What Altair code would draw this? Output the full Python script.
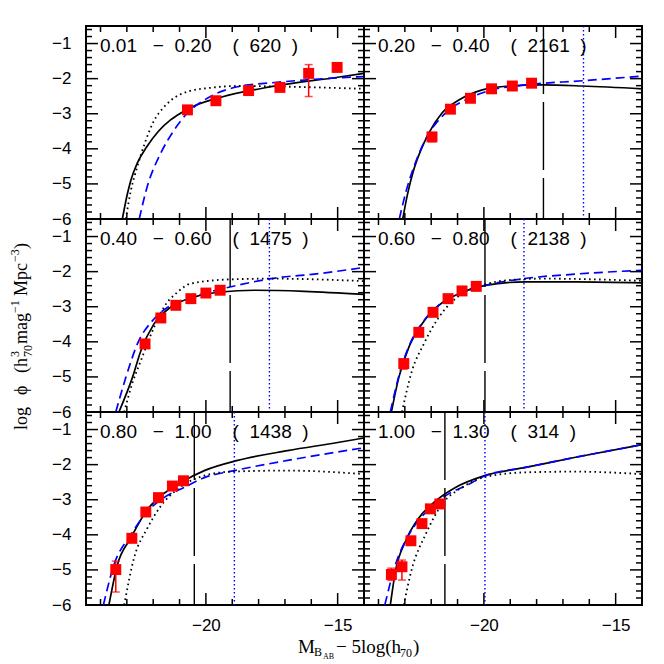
import altair as alt
import pandas as pd

W, H = 278, 193
X_DOMAIN = [-24.55, -14.0]
Y_DOMAIN = [-6.0, -0.5]

# redshift bins and counts
Z_LO = ["0.01", "0.20", "0.40", "0.60", "0.80", "1.00"]
Z_HI = ["0.20", "0.40", "0.60", "0.80", "1.00", "1.30"]
N_GAL = ["620", "2161", "1475", "2138", "1438", "314"]

# data points: (M, log phi, lower, upper)
P1_PTS = [(-20.70, -2.89, -2.95, -2.83), (-19.62, -2.63, -2.69, -2.57), (-18.38, -2.34, -2.40, -2.28),
          (-17.19, -2.25, -2.31, -2.19), (-16.10, -1.85, -2.51, -1.60), (-15.02, -1.68, -1.80, -1.57)]
P2_PTS = [(-21.97, -3.66, -3.80, -3.55), (-21.27, -2.87, -2.92, -2.82), (-20.51, -2.56, -2.60, -2.52),
          (-19.71, -2.29, -2.33, -2.25), (-18.92, -2.21, -2.25, -2.17), (-18.19, -2.13, -2.17, -2.09)]
P3_PTS = [(-22.31, -4.06, -4.18, -3.95), (-21.71, -3.32, -3.37, -3.27), (-21.14, -2.96, -3.00, -2.92),
          (-20.57, -2.77, -2.81, -2.73), (-20.00, -2.61, -2.65, -2.57), (-19.46, -2.53, -2.57, -2.49)]
P4_PTS = [(-23.04, -4.62, -4.78, -4.50), (-22.47, -3.73, -3.78, -3.68), (-21.93, -3.16, -3.20, -3.12),
          (-21.36, -2.77, -2.81, -2.73), (-20.83, -2.55, -2.59, -2.51), (-20.29, -2.42, -2.46, -2.38)]
P5_PTS = [(-23.42, -4.99, -5.63, -4.75), (-22.81, -4.10, -4.18, -4.02), (-22.28, -3.35, -3.40, -3.30),
          (-21.80, -2.94, -2.98, -2.90), (-21.27, -2.61, -2.65, -2.57), (-20.85, -2.46, -2.50, -2.42)]
P6_PTS = [(-23.51, -5.13, -5.30, -4.95), (-23.11, -4.91, -5.29, -4.72), (-22.77, -4.17, -4.25, -4.09),
          (-22.35, -3.68, -3.74, -3.62), (-22.03, -3.26, -3.31, -3.21), (-21.67, -3.12, -3.17, -3.07)]

# black solid fits
P1_SOLID = [(-23.17, -6.0), (-23.0, -5.35), (-22.85, -4.9), (-22.6, -4.4), (-22.25, -3.95), (-21.8, -3.5),
            (-21.33, -3.17), (-20.95, -2.98), (-20.57, -2.82), (-19.43, -2.53), (-17.53, -2.23),
            (-15.0, -1.96), (-14.0, -1.85)]
P2_SOLID = [(-23.08, -6.0), (-22.9, -5.3), (-22.66, -4.59), (-22.4, -4.05), (-22.09, -3.55), (-21.59, -2.98),
            (-20.95, -2.61), (-20.06, -2.32), (-19.05, -2.21), (-17.78, -2.18), (-16.26, -2.21), (-14.0, -2.29)]
P3_SOLID = [(-23.3, -6.0), (-22.79, -5.02), (-22.47, -4.26), (-21.97, -3.49), (-21.33, -3.01), (-20.44, -2.72),
            (-19.43, -2.58), (-18.16, -2.53), (-16.26, -2.56), (-14.0, -2.65)]
P4_SOLID = [(-23.51, -6.0), (-23.23, -5.02), (-22.85, -4.16), (-22.35, -3.49), (-21.71, -2.96), (-20.95, -2.63),
            (-19.94, -2.39), (-18.42, -2.29), (-16.52, -2.29), (-14.0, -2.32)]
P5_SOLID = [(-23.68, -6.0), (-23.36, -4.86), (-22.85, -4.09), (-22.22, -3.28), (-21.71, -2.89), (-20.95, -2.51),
            (-20.06, -2.17), (-18.8, -1.88), (-16.9, -1.60), (-15.0, -1.37), (-14.0, -1.24)]
P6_SOLID = [(-23.55, -6.0), (-23.36, -5.05), (-22.98, -4.19), (-22.47, -3.52), (-21.84, -3.04), (-21.08, -2.65),
            (-20.0, -2.32), (-18.42, -2.08), (-16.52, -1.79), (-14.0, -1.43)]

# blue dashed fits
P1_DASH = [(-22.53, -6.0), (-22.22, -5.06), (-21.71, -4.12), (-21.2, -3.46), (-20.7, -2.98), (-20.06, -2.61),
           (-18.8, -2.23), (-17.53, -2.12), (-16.26, -2.04), (-14.0, -1.94)]
P2_DASH = [(-23.21, -6.0), (-22.95, -5.2), (-22.65, -4.5), (-22.22, -3.74), (-21.46, -2.98), (-20.57, -2.56),
           (-19.68, -2.32), (-18.42, -2.18), (-16.26, -2.06), (-14.0, -1.93)]
P3_DASH = [(-23.42, -6.0), (-23.04, -5.02), (-22.6, -4.06), (-21.97, -3.35), (-21.33, -2.96), (-20.32, -2.68),
           (-18.8, -2.39), (-17.53, -2.20), (-15.63, -2.05), (-14.0, -1.88)]
P4_DASH = [(-23.55, -6.0), (-23.2, -4.9), (-22.8, -4.05), (-22.3, -3.42), (-21.7, -2.95), (-20.95, -2.64),
           (-20.0, -2.40), (-18.48, -2.20), (-16.52, -2.07), (-14.0, -1.96)]
P5_DASH = [(-23.89, -6.0), (-23.49, -4.86), (-22.85, -4.0), (-22.22, -3.33), (-21.59, -2.94), (-20.83, -2.65),
           (-20.06, -2.37), (-18.92, -2.17), (-16.9, -1.88), (-14.0, -1.52)]
P6_DASH = [(-23.76, -6.0), (-23.36, -4.86), (-22.85, -4.0), (-22.22, -3.37), (-21.46, -2.89), (-20.57, -2.56),
           (-20.0, -2.33), (-18.42, -2.08), (-16.52, -1.79), (-14.0, -1.43)]

# black dotted fits
P1_DOT = [(-23.04, -6.0), (-22.85, -5.2), (-22.6, -4.5), (-22.3, -3.8), (-21.97, -3.2), (-21.6, -2.82),
          (-21.33, -2.62), (-20.7, -2.37), (-19.81, -2.26), (-18.8, -2.21), (-16.9, -2.23), (-14.0, -2.29)]
P2_DOT = []
P3_DOT = [(-23.1, -6.0), (-22.8, -5.2), (-22.47, -4.54), (-21.97, -3.59), (-21.59, -3.01), (-21.1, -2.6),
          (-20.57, -2.34), (-19.05, -2.22), (-17.53, -2.2), (-14.0, -2.27)]
P4_DOT = [(-23.11, -6.0), (-22.73, -4.83), (-22.28, -4.06), (-21.71, -3.30), (-21.08, -2.77), (-20.06, -2.39),
          (-19.05, -2.24), (-17.78, -2.20), (-14.0, -2.26)]
P5_DOT = [(-23.1, -6.0), (-22.73, -4.67), (-22.22, -3.81), (-21.71, -3.18), (-21.08, -2.70), (-20.32, -2.38),
          (-19.05, -2.20), (-16.9, -2.17), (-14.0, -2.27)]
P6_DOT = [(-23.04, -6.0), (-22.73, -4.96), (-22.22, -4.0), (-21.59, -3.13), (-20.83, -2.65), (-19.94, -2.35),
          (-18.42, -2.22), (-16.52, -2.20), (-14.0, -2.27)]

# vertical markers (None = absent)
V_DASH = [None, -17.74, -19.08, -19.96, -20.44, -21.48]
V_DOT = [None, -16.22, -17.59, -18.48, -18.92, -19.96]

# tick values
X_MAJOR = [-20, -15]
X_MINOR = [-24, -23, -22, -21, -19, -18, -17, -16, -14]
Y_MAJOR = [-6, -5, -4, -3, -2, -1]
Y_MINOR = [-5.8, -5.6, -5.4, -5.2, -4.8, -4.6, -4.4, -4.2, -3.8, -3.6, -3.4, -3.2,
           -2.8, -2.6, -2.4, -2.2, -1.8, -1.6, -1.4, -1.2, -0.8, -0.6]

# axis title pieces: (text, x, y, size) relative to the panel they sit in
Y_TITLE = [("log", -59, 211, 18), ("ϕ", -59, 176, 18), ("(h", -59, 154, 18), ("3", -67, 138, 12),
           ("70", -54, 138, 12), ("mag", -59, 125, 18), ("−1", -67, 94, 12), ("Mpc", -59, 77, 18),
           ("−3", -67, 43, 12), (")", -59, 30, 18)]
X_TITLE = [("M", 212, 241, 19), ("B", 228, 244, 12), ("AB", 237, 247, 8),
           ("−\u00a05log(h", 250, 241, 19), ("70", 314, 245, 12), (")", 327, 241, 19)]

PTS = [P1_PTS, P2_PTS, P3_PTS, P4_PTS, P5_PTS, P6_PTS]
SOLID = [P1_SOLID, P2_SOLID, P3_SOLID, P4_SOLID, P5_SOLID, P6_SOLID]
DASH = [P1_DASH, P2_DASH, P3_DASH, P4_DASH, P5_DASH, P6_DASH]
DOT = [P1_DOT, P2_DOT, P3_DOT, P4_DOT, P5_DOT, P6_DOT]

NB = "\u00a0"
xscale = alt.Scale(domain=X_DOMAIN, nice=False, zero=False)
yscale = alt.Scale(domain=Y_DOMAIN, nice=False, zero=False)


def panel(i):
    row, col = divmod(i, 2)
    xaxis = alt.Axis(values=X_MAJOR) if row == 2 else None
    yaxis = alt.Axis(values=Y_MAJOR) if col == 0 else None

    def X(f):
        return alt.X(f, type="quantitative", scale=xscale, axis=xaxis, title=None)

    def Y(f):
        return alt.Y(f, type="quantitative", scale=yscale, axis=yaxis, title=None)

    layers = []
    line_specs = [
        (SOLID[i], dict(color="black", strokeWidth=1.7)),
        (DASH[i], dict(color="#0000ff", strokeWidth=1.7, strokeDash=[9, 5])),
        (DOT[i], dict(color="black", strokeWidth=1.8, strokeDash=[1.6, 3.4], strokeCap="butt")),
    ]
    for data, style in line_specs:
        if not data:
            continue
        df = pd.DataFrame(data, columns=["M", "phi"])
        layers.append(alt.Chart(df).mark_line(clip=True, interpolate="monotone", **style)
                      .encode(x=X("M"), y=Y("phi"), order="M:Q"))

    if V_DASH[i] is not None:
        layers.append(alt.Chart(pd.DataFrame({"M": [V_DASH[i]]}))
                      .mark_rule(color="black", strokeWidth=1.4, strokeDash=[68, 8])
                      .encode(x=X("M"), y=alt.value(0), y2=alt.value(H)))
    if V_DOT[i] is not None:
        layers.append(alt.Chart(pd.DataFrame({"M": [V_DOT[i]]}))
                      .mark_rule(color="#0000ff", strokeWidth=1.4, strokeDash=[1.5, 2.5])
                      .encode(x=X("M"), y=alt.value(0), y2=alt.value(H)))

    pts = pd.DataFrame(PTS[i], columns=["M", "phi", "lo", "hi"])
    layers.append(alt.Chart(pts).mark_rule(color="red", strokeWidth=1.5, clip=True)
                  .encode(x=X("M"), y=Y("lo"), y2="hi:Q"))
    for f in ["lo", "hi"]:
        layers.append(alt.Chart(pts).mark_tick(color="red", size=8, thickness=1.5, orient="horizontal", clip=True)
                      .encode(x=X("M"), y=Y(f)))
    layers.append(alt.Chart(pts).mark_square(color="red", size=120, opacity=1, filled=True, clip=True)
                  .encode(x=X("M"), y=Y("phi")))

    # inward ticks on four sides
    for vals, L in [(X_MINOR, 6), (X_MAJOR, 12)]:
        d = pd.DataFrame({"v": vals})
        layers.append(alt.Chart(d).mark_rule(color="black", strokeWidth=1.5)
                      .encode(x=X("v"), y=alt.value(H), y2=alt.value(H - L)))
        layers.append(alt.Chart(d).mark_rule(color="black", strokeWidth=1.5)
                      .encode(x=X("v"), y=alt.value(0), y2=alt.value(L)))
    for vals, L in [(Y_MINOR, 6), (Y_MAJOR, 12)]:
        d = pd.DataFrame({"v": vals})
        layers.append(alt.Chart(d).mark_rule(color="black", strokeWidth=1.5)
                      .encode(y=Y("v"), x=alt.value(0), x2=alt.value(L)))
        layers.append(alt.Chart(d).mark_rule(color="black", strokeWidth=1.5)
                      .encode(y=Y("v"), x=alt.value(W), x2=alt.value(W - L)))

    label = f"{Z_LO[i]}{NB*3}\u2212{NB*2}{Z_HI[i]}{NB*4}({NB*2}{N_GAL[i]}{NB*2})"
    layers.append(alt.Chart(pd.DataFrame({"t": [label]}))
                  .mark_text(align="left", baseline="alphabetic", fontSize=19, font="Liberation Sans",
                             color="black")
                  .encode(x=alt.value(14), y=alt.value(26), text="t:N"))

    if i == 2:
        for t, px, py, s in Y_TITLE:
            layers.append(alt.Chart(pd.DataFrame({"t": [t]}))
                          .mark_text(align="left", baseline="alphabetic", angle=270, fontSize=s,
                                     font="Liberation Serif", color="black")
                          .encode(x=alt.value(px), y=alt.value(py), text="t:N"))
    if i == 4:
        for t, px, py, s in X_TITLE:
            layers.append(alt.Chart(pd.DataFrame({"t": [t]}))
                          .mark_text(align="left", baseline="alphabetic", fontSize=s,
                                     font="Liberation Serif", color="black")
                          .encode(x=alt.value(px), y=alt.value(py), text="t:N"))

    return alt.layer(*layers).properties(width=W, height=H)


chart = alt.concat(*[panel(i) for i in range(6)], columns=2, spacing=0, bounds="flush").properties(
    padding={"left": 0, "top": 16, "right": 0, "bottom": 0}
).configure_view(stroke="black", strokeWidth=2).configure_axis(
    grid=False, ticks=False, tickSize=0, domain=False, labelFont="Liberation Sans",
    labelFontSize=17, labelColor="black"
).configure_axisY(labelPadding=15).configure_axisX(labelPadding=12)

chart.save("out.html", embed_options={"renderer": "svg", "actions": False})
